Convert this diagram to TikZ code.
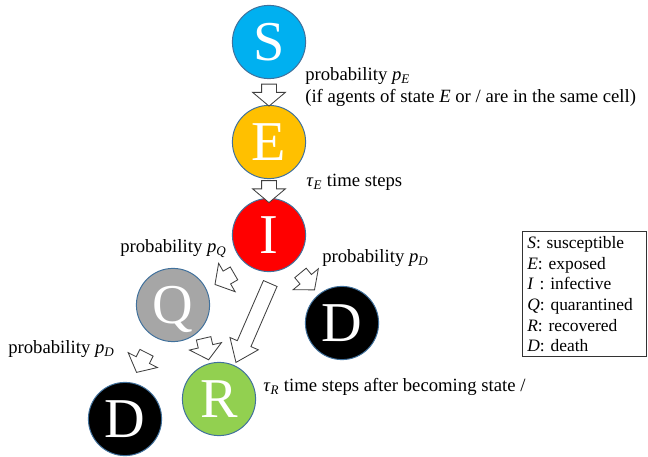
\documentclass[tikz,border=0pt]{standalone}
\usepackage{fontspec}
\setmainfont{Liberation Serif}
\usetikzlibrary{shapes.arrows,positioning}
\definecolor{StateS}{RGB}{0,176,240}
\definecolor{StateE}{RGB}{255,192,0}
\definecolor{StateI}{RGB}{255,0,0}
\definecolor{StateQ}{RGB}{166,166,166}
\definecolor{StateR}{RGB}{146,208,80}
\definecolor{EdgeBlue}{RGB}{65,113,156}
\newcommand{\lowi}[1]{\textsubscript{\textit{#1}}}
\tikzset{
  state/.style={circle,draw=EdgeBlue,line width=0.7pt,minimum size=1.83cm,
    inner sep=0pt,text=white,text height=27pt,text depth=0pt,
    font=\fontsize{40}{40}\selectfont},
  fatarrow/.style={single arrow,draw=black!75,fill=white,line width=0.6pt,
    inner xsep=0pt,inner ysep=0.175cm,single arrow head extend=0.225cm,
    single arrow tip angle=100,minimum height=0.55cm,sloped,allow upside down},
  longarrow/.style={fatarrow,minimum height=2.15cm,single arrow tip angle=74,
    single arrow head extend=0.2cm},
  note/.style={anchor=west,inner sep=0pt,align=left,
    font=\fontsize{13.3}{15.6}\selectfont},
}
\begin{document}
\begin{tikzpicture}[x=0.025cm,y=-0.025cm]
  \useasboundingbox (0,0) rectangle (648,457);
  % states
  \node[state,fill=StateS] (S) at (269,42) {S};
  \node[state,fill=StateE] (E) at (269,142) {E};
  \node[state,fill=StateI] (I) at (269,235) {I};
  \node[state,fill=StateQ] (Q) at (173,305) {Q};
  \node[state,fill=black] (Dright) at (342,323) {D};
  \node[state,fill=StateR] (R) at (219,399) {R};
  \node[state,fill=black] (Dleft) at (125,419) {D};
  % transitions
  \path (S) -- node[fatarrow] {} (E);
  \path (E) -- node[fatarrow] {} (I);
  \path (I.235) -- node[fatarrow] {} (Q.25);
  \path (I) -- node[fatarrow] {} (Dright);
  \path (Q.-120) -- node[fatarrow] {} (Dleft.80);
  \path (Q.-40) -- node[fatarrow] {} (R.105);
  \path (I.-80) -- node[longarrow] {} (R.65);
  % labels
  \node[note] (pE) at (305,87) {probability \textit{p}\lowi{E}\\(if agents of state \textit{E} or / are in the same cell)};
  \node[note] (tauE) at (306,182) {\textit{τ}\lowi{E} time steps};
  \node[note] (pQ) at (120,249) {probability \textit{p}\lowi{Q}};
  \node[note] (pDright) at (322,258) {probability \textit{p}\lowi{D}};
  \node[note] (pDleft) at (8,349) {probability \textit{p}\lowi{D}};
  \node[note] (tauR) at (263,387) {\textit{τ}\lowi{R} time steps after becoming state /};
  % legend
  \node[draw=black!80,line width=0.7pt,anchor=north west,inner sep=0.12cm,
    text width=2.86cm,align=left,font=\fontsize{12.4}{14.7}\selectfont] (key) at (522,231)
    {\textit{S}: susceptible\\\textit{E}: exposed\\\textit{I} : infective\\
     \textit{Q}: quarantined\\\textit{R}: recovered\\\textit{D}: death};
\end{tikzpicture}
\end{document}
